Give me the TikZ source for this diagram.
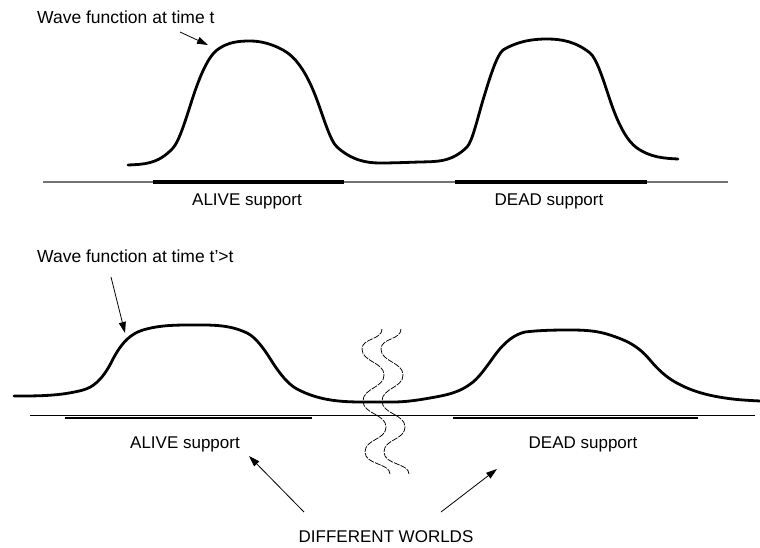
\documentclass[tikz,border=0pt]{standalone}
\usepackage{fontspec}
\setmainfont{Liberation Sans}
\usetikzlibrary{arrows.meta}
\begin{document}
\begin{tikzpicture}[x=1pt,y=-1pt,
  wave/.style={line width=2.8pt, line cap=round, line join=round},
  axistop/.style={line width=1.3pt, draw=black!55},
  axisbot/.style={line width=1pt, draw=black},
  supp/.style={line width=3.2pt},
  lbl/.style={font=\fontsize{17}{20}\selectfont, inner sep=0pt},
  pointer/.style={line width=0.8pt, -{Triangle[length=11pt,width=7pt]}},
  rift/.style={line width=0.75pt, dash pattern=on 6pt off 1.2pt}
]
\useasboundingbox (0,0) rectangle (760,548);

% ---------- wave function at time t ----------
\node[lbl, anchor=base west, font=\fontsize{17.5}{20}\selectfont] (t1) at (37,24) {Wave function at time t};
\coordinate (a1s) at (180,32);
\coordinate (a1e) at (208,45);
\draw[pointer] (a1s) -- (a1e);

\draw[wave] (128,165)
  .. controls (143,164.3) and (158,164.5) .. (173,148)
  .. controls (179.3,141) and (185.7,119.6) .. (192,100)
  .. controls (200.3,74.2) and (208.7,56.3) .. (217,50)
  .. controls (228,41.8) and (239,41) .. (250,41)
  .. controls (261,41) and (272,44) .. (283,50)
  .. controls (294.3,56.2) and (305.7,69.4) .. (317,100)
  .. controls (323.7,118) and (330.3,141) .. (337,147)
  .. controls (351.3,159.9) and (365.7,163) .. (380,163)
  .. controls (393.3,163) and (406.7,162.4) .. (420,162)
  .. controls (435.7,161.5) and (451.3,162.7) .. (467,147)
  .. controls (472.3,141.7) and (477.7,117.6) .. (483,100)
  .. controls (489.7,78) and (496.3,56) .. (503,50)
  .. controls (517.7,41.2) and (532.3,39) .. (547,39)
  .. controls (561.3,39) and (575.7,41.5) .. (590,53)
  .. controls (596.7,58.3) and (603.3,80) .. (610,100)
  .. controls (619,127) and (628,141.7) .. (637,148)
  .. controls (650.7,157.6) and (664.3,158.3) .. (678,159);

\draw[axistop] (43,182) -- (728,182);
\draw[supp] (153,182) -- (344,182);
\draw[supp] (455,182) -- (647,182);
\node[lbl, anchor=base] (alive1) at (247,206) {ALIVE support};
\node[lbl, anchor=base] (dead1) at (549,206) {DEAD support};

% ---------- wave function at time t'>t ----------
\node[lbl, anchor=base west, font=\fontsize{17.5}{20}\selectfont] (t2) at (37,262) {Wave function at time t'>t};
\coordinate (a2s) at (111,277);
\coordinate (a2e) at (125,333);
\draw[pointer] (a2s) -- (a2e);

\draw[wave] (14,396)
  .. controls (37,396) and (60,396.2) .. (83,390)
  .. controls (92.7,387.4) and (102.3,380.3) .. (112,361)
  .. controls (122.3,340.3) and (132.7,333.1) .. (143,330)
  .. controls (159.3,325.1) and (175.7,325) .. (192,325)
  .. controls (210.3,325) and (228.7,324.2) .. (247,333)
  .. controls (255,336.8) and (263,347.2) .. (271,360)
  .. controls (279.7,373.9) and (288.3,384.4) .. (297,389)
  .. controls (319,400.7) and (341,402) .. (363,402)
  -- (393,402)
  .. controls (405.3,402) and (417.7,400.2) .. (430,398)
  .. controls (444.3,395.4) and (458.7,393.5) .. (473,382)
  .. controls (480.3,376.1) and (487.7,365) .. (495,355)
  .. controls (505,341.4) and (515,334.3) .. (525,332)
  .. controls (540,330.2) and (555,330) .. (570,330)
  .. controls (583.3,330) and (596.7,330.5) .. (610,335)
  .. controls (623.3,339.5) and (636.7,344) .. (650,360)
  .. controls (658.3,370) and (666.7,377.3) .. (675,382)
  .. controls (691.7,391.5) and (708.3,395.5) .. (725,398)
  .. controls (736.7,399.8) and (748.3,400.4) .. (760,401);

\draw[axisbot] (30,415) -- (755,415);
\draw[supp, line width=2.8pt] (65,418) -- (312,418);
\draw[supp, line width=2.8pt] (453,418) -- (698,418);
\node[lbl, anchor=base] (alive2) at (185,448) {ALIVE support};
\node[lbl, anchor=base] (dead2) at (583,448) {DEAD support};

% ---------- the separation between worlds ----------
\foreach \dx in {0,19} {
  \draw[rift, xshift=\dx] (382,329)
    .. controls (382,340) and (362,338) .. (362,349)
    .. controls (362,362) and (384,362) .. (384,375)
    .. controls (384,388) and (363,388) .. (363,401)
    .. controls (363,414) and (386,414) .. (386,427)
    .. controls (386,440) and (365,439) .. (365,452)
    .. controls (365,465) and (390,463) .. (390,474);
}

\node[lbl, anchor=base] (worlds) at (386,542) {DIFFERENT WORLDS};
\coordinate (w1s) at (304,512);
\coordinate (w1e) at (249,456);
\coordinate (w2s) at (441,512);
\coordinate (w2e) at (497,469);
\draw[pointer] (w1s) -- (w1e);
\draw[pointer] (w2s) -- (w2e);
\end{tikzpicture}
\end{document}
